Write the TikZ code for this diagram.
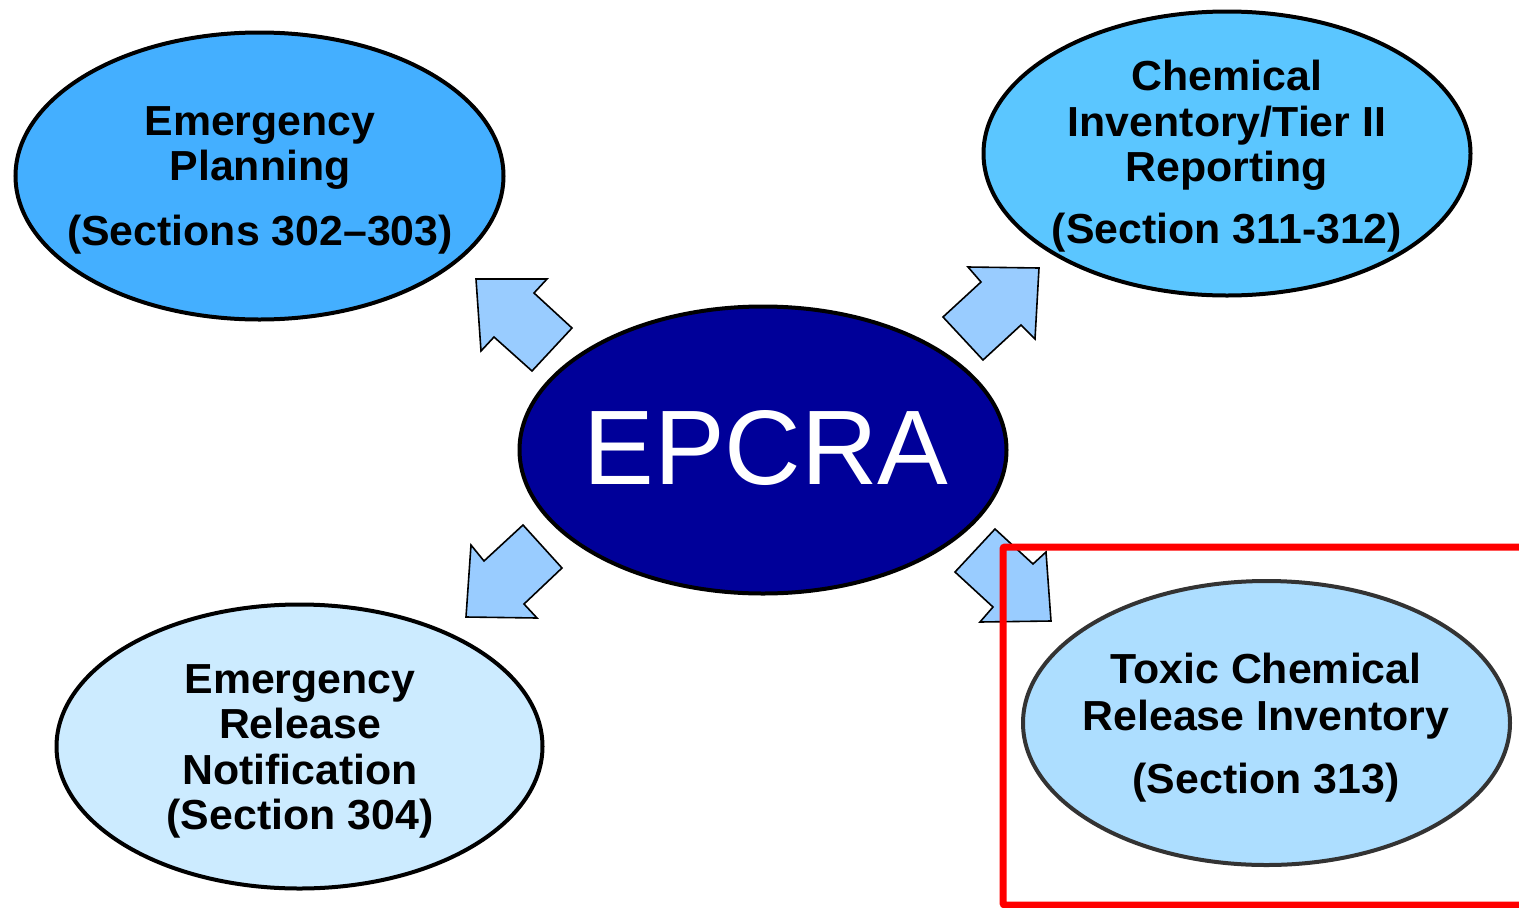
\documentclass[tikz,border=0pt]{standalone}
\usepackage{fontspec}
\usetikzlibrary{shapes.geometric}
\newfontfamily\labfont[FakeStretch=1.02]{Liberation Sans Bold}
\newfontfamily\epfont{Liberation Sans}
\definecolor{cEP}{HTML}{44AFFF}
\definecolor{cCI}{HTML}{5BC6FF}
\definecolor{cEPCRA}{HTML}{000099}
\definecolor{cERN}{HTML}{CCEBFF}
\definecolor{cTCR}{HTML}{ADDEFF}
\definecolor{cArrow}{HTML}{99CCFF}
\definecolor{cRing}{HTML}{333333}
\tikzset{
  topic/.style={ellipse, draw=black, line width=4pt, inner sep=0pt,
    minimum width=487pt, minimum height=285pt},
  line/.style={anchor=base, inner sep=0pt, font=\labfont\fontsize{42}{46}\selectfont, text=black},
  blockarrow/.style={draw=black, line width=1.6pt, fill=cArrow, line join=miter},
  highlight/.style={draw=red, line width=7pt, rounded corners=2pt}
}
\begin{document}
\begin{tikzpicture}[x=1pt,y=-1pt]
\useasboundingbox (0,0) rectangle (1519,908);
\clip (0,0) rectangle (1519,908);
\fill[white] (0,0) rectangle (1519,908);

% ellipses
\node[topic, fill=cEP, minimum width=488pt, minimum height=287pt] (ep) at (259.5,176) {};
\node[topic, fill=cCI, minimum height=284pt] (ci) at (1227,153.5) {};
\node[topic, fill=cEPCRA, minimum height=287pt] (epcra) at (763,450) {};
\node[topic, fill=cERN, minimum width=486pt, minimum height=284pt] (ern) at (299.5,746.5) {};
\node[topic, fill=cTCR, draw=cRing, minimum height=284pt] (tcr) at (1266.5,723) {};

% texts
\node[line] (ep1) at (260,135) {Emergency};
\node[line] (ep2) at (260,180) {Planning};
\node[line] (ep3) at (260,245) {(Sections 302–303)};

\node[line] (ci1) at (1227,90) {Chemical};
\node[line] (ci2) at (1227,136) {Inventory/Tier II};
\node[line] (ci3) at (1227,181) {Reporting};
\node[line] (ci4) at (1227,243) {(Section 311-312)};

\node[anchor=base, inner sep=0pt, text=white, font=\epfont\fontsize{106}{110}\selectfont] (ept) at (766,484) {EPCRA};

\node[line] (ern1) at (300,693) {Emergency};
\node[line] (ern2) at (300,738.5) {Release};
\node[line] (ern3) at (300,784) {Notification};
\node[line] (ern4) at (300,829) {(Section 304)};

\node[line] (tcr1) at (1266,683) {Toxic Chemical};
\node[line] (tcr2) at (1266,730.5) {Release Inventory};
\node[line] (tcr3) at (1266,793) {(Section 313)};

% block arrows
\draw[blockarrow] (476,279) -- (547,279) -- (534,293) -- (572,328) -- (532,371) -- (494,337) -- (481,351) -- cycle;
\draw[blockarrow] (1039,268) -- (1035,339) -- (1021,325) -- (983,360) -- (943,317) -- (981,282) -- (968,267) -- cycle;
\draw[blockarrow] (466,617) -- (471,545) -- (484,561) -- (523,525) -- (562,568) -- (524,604) -- (537,618) -- cycle;
\draw[blockarrow] (995,529) -- (1033,564) -- (1046,552) -- (1051,621) -- (980,622) -- (993,607) -- (955,572) -- cycle;

% highlight frame
\draw[highlight] (1003,547) rectangle (1540,905);
\end{tikzpicture}
\end{document}
